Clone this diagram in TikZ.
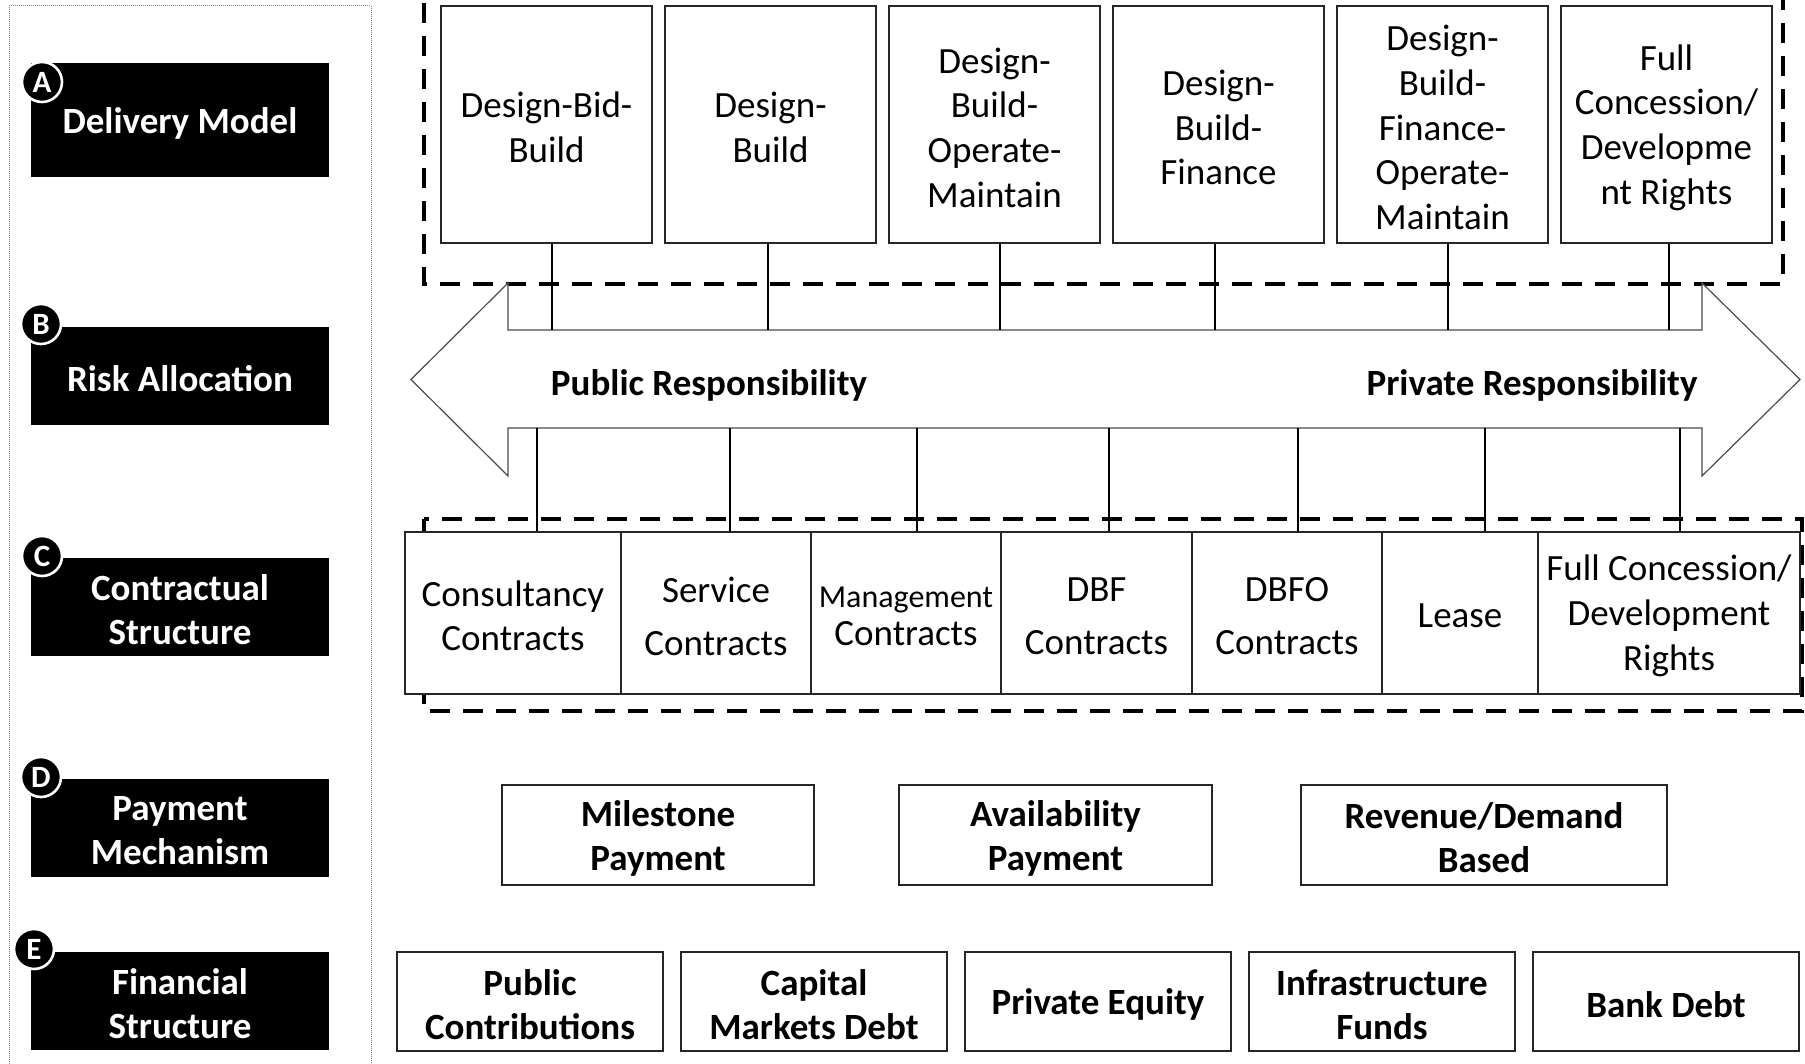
\documentclass[tikz,border=0pt]{standalone}
\usepackage{fontspec}
\setmainfont{Carlito}
\begin{document}
\begin{tikzpicture}[x=1pt,y=-1pt,
  every node/.style={inner sep=0pt, align=center},
  % frames (drawn empty) and the texts set inside them
  sect/.style={fill=black, minimum width=298pt},
  secttxt/.style={text=white, yshift=-3pt, font=\fontsize{37}{44}\selectfont\bfseries},
  badge/.style={circle, fill=black, draw=white, line width=2.6pt, minimum size=40pt, text=white, font=\fontsize{31}{31}\selectfont\bfseries},
  frame/.style={draw=black!85, line width=1.2pt, fill=white},
  model/.style={frame, minimum width=211pt, minimum height=237pt},
  contract/.style={frame, minimum height=162pt},
  pay/.style={frame, minimum height=100pt},
  fin/.style={frame, minimum width=266pt, minimum height=99pt},
  plain/.style={yshift=-3pt, font=\fontsize{37}{44.7}\selectfont},
  heavy/.style={yshift=-3pt, font=\fontsize{37}{44}\selectfont\bfseries},
  grpline/.style={line width=4.5pt, dash pattern=on 20pt off 13pt},
  panel/.style={draw=black!50, line width=1pt, dash pattern=on 1pt off 1pt},
  link/.style={draw=black, line width=1.4pt},
  bigarrow/.style={draw=black!70, line width=1.2pt, fill=white}
]
\useasboundingbox (0,0) rectangle (1805,1064);
\clip (0,0) rectangle (1805,1064);

% left panel with the five dimensions
\draw[panel] (9,1080) -- (9,6) -- (371,6) -- (371,1080);

\node[sect, minimum height=114pt] (secA) at (180,120) {};
\node[sect, minimum height=98pt] (secB) at (180,376) {};
\node[sect, minimum height=98pt] (secC) at (180,607) {};
\node[sect, minimum height=98pt] (secD) at (180,828) {};
\node[sect, minimum height=98pt] (secE) at (180,1001) {};
\node[secttxt] (secAt) at (secA) {Delivery Model};
\node[secttxt] (secBt) at (secB) {Risk Allocation};
\node[secttxt] (secCt) at (secC) {Contractual\\Structure};
\node[secttxt] (secDt) at (secD) {Payment\\Mechanism};
\node[secttxt] (secEt) at (secE) {Financial\\Structure};

\node[badge] (bA) at (42,82) {A};
\node[badge] (bB) at (41,324) {B};
\node[badge] (bC) at (42,556) {C};
\node[badge] (bD) at (41,777) {D};
\node[badge] (bE) at (34,949) {E};

% dashed groups
\draw[grpline] (424,-30) rectangle (1783,284);
\draw[grpline] (424,519) rectangle (1802,711);

% public / private responsibility arrow
\draw[bigarrow] (411,379.5) -- (508,283) -- (508,330) -- (1702,330) -- (1702,283)
  -- (1800,379.5) -- (1702,476) -- (1702,428) -- (508,428) -- (508,476) -- cycle;
\coordinate (shaftT) at (0,330);
\coordinate (shaftB) at (0,428);
\node[heavy] (pub) at (709,382) {Public Responsibility};
\node[heavy] (priv) at (1532,382) {Private Responsibility};

% delivery models
\node[model] (m1) at (546.5,124.5) {};
\node[model] (m2) at (770.5,124.5) {};
\node[model] (m3) at (994.5,124.5) {};
\node[model] (m4) at (1218.5,124.5) {};
\node[model] (m5) at (1442.5,124.5) {};
\node[model] (m6) at (1666.5,124.5) {};
\node[plain] (m1t) at (m1) {Design-Bid-\\Build};
\node[plain] (m2t) at (m2) {Design-\\Build};
\node[plain] (m3t) at (m3) {Design-\\Build-\\Operate-\\Maintain};
\node[plain] (m4t) at (m4) {Design-\\Build-\\Finance};
\node[plain] (m5t) at (m5) {Design-\\Build-\\Finance-\\Operate-\\Maintain};
\node[plain] (m6t) at (m6) {Full\\Concession/\\Developme\\nt Rights};

% contractual structures
\node[contract, minimum width=216pt] (c1) at (513,613) {};
\node[contract, minimum width=190pt] (c2) at (716,613) {};
\node[contract, minimum width=190pt] (c3) at (906,613) {};
\node[contract, minimum width=191pt] (c4) at (1096.5,613) {};
\node[contract, minimum width=190pt] (c5) at (1287,613) {};
\node[contract, minimum width=156pt] (c6) at (1460,613) {};
\node[contract, minimum width=262pt] (c7) at (1669,613) {};
\node[plain, font=\fontsize{37}{44}\selectfont] (c1t) at (c1) {Consultancy\\Contracts};
\node[plain, font=\fontsize{37}{44}\selectfont] (c2t) at (c2) {Service\\[9pt]Contracts};
\node[plain, font=\fontsize{37}{38}\selectfont] (c3t) at (c3) {{\fontsize{32}{38}\selectfont Management}\\Contracts};
\node[plain, font=\fontsize{37}{44}\selectfont] (c4t) at (c4) {DBF\\[9pt]Contracts};
\node[plain, font=\fontsize{37}{44}\selectfont] (c5t) at (c5) {DBFO\\[9pt]Contracts};
\node[plain] (c6t) at (c6) {Lease};
\node[plain] (c7t) at (c7) {Full Concession/\\Development\\Rights};

% links from models and contracts to the arrow
\foreach \n/\dx in {m1/5.5, m2/-2.5, m3/5.5, m4/-3.5, m5/5.5, m6/2.5}
  \draw[link] ([xshift=\dx pt]\n.south) -- ([xshift=\dx pt]\n.south |- shaftT);
\foreach \n/\dx in {c1/24, c2/14, c3/11, c4/12.5, c5/11, c6/25, c7/11}
  \draw[link] ([xshift=\dx pt]\n.north) -- ([xshift=\dx pt]\n.north |- shaftB);

% payment mechanisms
\node[pay, minimum width=312pt] (p1) at (658,835) {};
\node[pay, minimum width=313pt] (p2) at (1055.5,835) {};
\node[pay, minimum width=366pt] (p3) at (1484,835) {};
\node[heavy] (p1t) at (p1) {Milestone\\Payment};
\node[heavy] (p2t) at (p2) {Availability\\Payment};
\node[heavy] (p3t) at (p3) {Revenue/Demand\\Based};

% financial structures
\node[fin] (f1) at (530,1001.5) {};
\node[fin] (f2) at (814,1001.5) {};
\node[fin] (f3) at (1098,1001.5) {};
\node[fin] (f4) at (1382,1001.5) {};
\node[fin] (f5) at (1666,1001.5) {};
\node[heavy] (f1t) at (f1) {Public\\Contributions};
\node[heavy] (f2t) at (f2) {Capital\\Markets Debt};
\node[heavy] (f3t) at (f3) {Private Equity};
\node[heavy] (f4t) at (f4) {Infrastructure\\Funds};
\node[heavy] (f5t) at (f5) {Bank Debt};
\end{tikzpicture}
\end{document}
